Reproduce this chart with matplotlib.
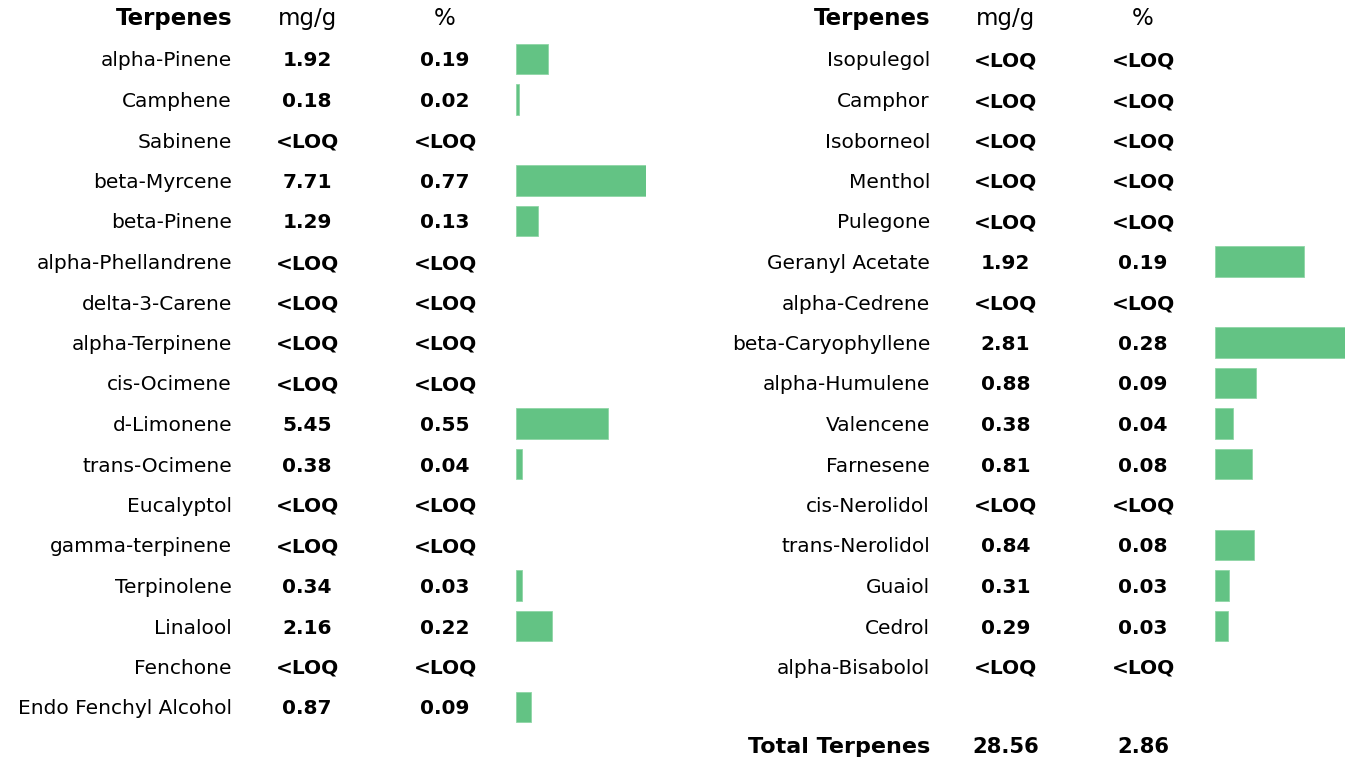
import matplotlib
matplotlib.use("Agg")
import matplotlib.pyplot as plt
import numpy as np

# ---- data ----
left_names = ["alpha-Pinene", "Camphene", "Sabinene", "beta-Myrcene", "beta-Pinene",
              "alpha-Phellandrene", "delta-3-Carene", "alpha-Terpinene", "cis-Ocimene",
              "d-Limonene", "trans-Ocimene", "Eucalyptol", "gamma-terpinene", "Terpinolene",
              "Linalool", "Fenchone", "Endo Fenchyl Alcohol"]
left_mg = [1.92, 0.18, None, 7.71, 1.29, None, None, None, None,
           5.45, 0.38, None, None, 0.34, 2.16, None, 0.87]
left_pct = [0.19, 0.02, None, 0.77, 0.13, None, None, None, None,
            0.55, 0.04, None, None, 0.03, 0.22, None, 0.09]

right_names = ["Isopulegol", "Camphor", "Isoborneol", "Menthol", "Pulegone",
               "Geranyl Acetate", "alpha-Cedrene", "beta-Caryophyllene", "alpha-Humulene",
               "Valencene", "Farnesene", "cis-Nerolidol", "trans-Nerolidol", "Guaiol",
               "Cedrol", "alpha-Bisabolol"]
right_mg = [None, None, None, None, None, 1.92, None, 2.81, 0.88,
            0.38, 0.81, None, 0.84, 0.31, 0.29, None]
right_pct = [None, None, None, None, None, 0.19, None, 0.28, 0.09,
             0.04, 0.08, None, 0.08, 0.03, 0.03, None]

headers = ["Terpenes", "mg/g", "%"]
total_label = "Total Terpenes"
total_mg = 28.56
total_pct = 2.86

# ---- layout ----
W, H = 1348, 761
FONT = "DejaVu Sans"
GREEN = "#63C384"
FS = 14.5
FS_HEAD = 16.5
fig = plt.figure(figsize=(W / 100, H / 100), dpi=100)
ax = fig.add_axes([0, 0, 1, 1])
ax.set_xlim(0, W)
# row index i -> pixel y = 18.5 + 40.5*i
y_top = (0 - 18.5) / 40.5
y_bot = (H - 18.5) / 40.5
ax.set_ylim(y_bot, y_top)
ax.axis("off")

def fmt(v):
    return "<LOQ" if v is None else f"{v:.2f}"

def draw_panel(names, mg, pct, x_label, x_mg, x_pct, bar_x0, bar_x1):
    hy = -0.05
    ax.text(x_label, hy, headers[0], ha="right", va="center_baseline", fontsize=FS_HEAD,
            fontweight="bold", family=FONT)
    ax.text(x_mg, hy, headers[1], ha="center", va="center_baseline", fontsize=FS_HEAD,
            family=FONT)
    ax.text(x_pct, hy, headers[2], ha="center", va="center_baseline", fontsize=FS_HEAD,
            family=FONT)
    for i, (n, m, p) in enumerate(zip(names, mg, pct), start=1):
        ax.text(x_label, i, n, ha="right", va="center_baseline", fontsize=FS, family=FONT)
        ax.text(x_mg, i, fmt(m), ha="center", va="center_baseline", fontsize=FS,
                fontweight="bold", family=FONT)
        ax.text(x_pct, i, fmt(p), ha="center", va="center_baseline", fontsize=FS,
                fontweight="bold", family=FONT)
    bax = fig.add_axes([bar_x0 / W, 0, (bar_x1 - bar_x0) / W, 1])
    bax.set_ylim(y_bot, y_top)
    rows = [i for i, v in enumerate(mg, start=1) if v is not None]
    vals = [v for v in mg if v is not None]
    bax.set_xlim(0, max(vals))
    bax.barh(rows, vals, height=0.75, color=GREEN, edgecolor="#8fd6a6", linewidth=0.6)
    bax.axis("off")

draw_panel(left_names, left_mg, left_pct, 232, 307, 445, 516, 646)
draw_panel(right_names, right_mg, right_pct, 930, 1005.5, 1143, 1215, 1345)

ty = len(right_names) + 2 - 0.07
ax.text(930, ty, total_label, ha="right", va="center_baseline", fontsize=16,
        fontweight="bold", family=FONT)
ax.text(1005.5, ty, fmt(total_mg), ha="center", va="center_baseline", fontsize=FS + 0.7,
        fontweight="bold", family=FONT)
ax.text(1143, ty, fmt(total_pct), ha="center", va="center_baseline", fontsize=FS + 0.7,
        fontweight="bold", family=FONT)

fig.savefig("out.png", dpi=100, facecolor="white")
